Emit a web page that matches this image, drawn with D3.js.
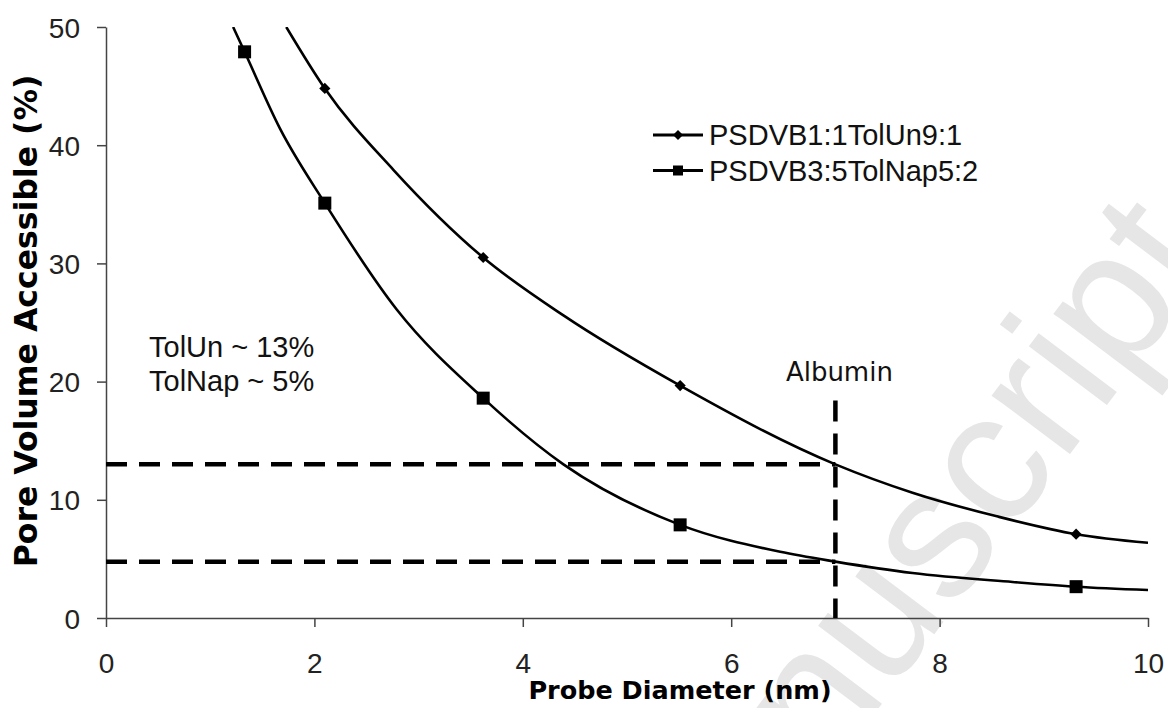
<!DOCTYPE html>
<html>
<head>
<meta charset="utf-8">
<script src="https://cdn.jsdelivr.net/npm/d3@7/dist/d3.min.js"></script>
<style>
  html, body { margin: 0; padding: 0; background: #fff; }
  svg { display: block; }
</style>
</head>
<body>
<div id="chart"></div>
<script>
// measured points (markers)
const unX = [2.1, 3.62, 5.51, 9.31];
const unY = [44.8, 30.5, 19.66, 7.09];
const napX = [1.33, 2.1, 3.62, 5.51, 9.31];
const napY = [47.9, 35.1, 18.6, 7.88, 2.65];

// smoothed curves
const unCurveX = [1.73, 2.1, 2.76, 3.62, 4.39, 5.51, 7.0, 7.74, 8.55, 9.31, 10];
const unCurveY = [50, 44.8, 37.9, 30.5, 25.6, 19.66, 13.0, 10.6, 8.6, 7.09, 6.36];
const napCurveX = [1.22, 1.33, 1.67, 2.1, 2.79, 3.62, 4.39, 5.51, 6.47, 7.0, 7.74, 8.7, 9.31, 10];
const napCurveY = [50, 47.9, 41.4, 35.1, 26.1, 18.6, 13.0, 7.88, 5.6, 4.77, 3.8, 3.05, 2.65, 2.37];

const seriesNames = ['PSDVB1:1TolUn9:1', 'PSDVB3:5TolNap5:2'];
const xTicks = [0, 2, 4, 6, 8, 10];
const yTicks = [0, 10, 20, 30, 40, 50];

// reference lines
const albuminX = 7;
const albuminTop = 18.4;
const levelUn = 13;
const levelNap = 4.75;

const width = 1168, height = 708;
const margin = {top: 27, right: 20, bottom: 90, left: 106};
const arial = 'Liberation Sans, Arial, sans-serif';

const svg = d3.select('#chart').append('svg')
    .attr('width', width)
    .attr('height', height);

const x = d3.scaleLinear().domain([0, 10]).range([margin.left, 1148]);
const y = d3.scaleLinear().domain([0, 50]).range([618, margin.top]);

// watermark
svg.append('text')
    .attr('transform', 'translate(1217,259) rotate(-53)')
    .attr('text-anchor', 'end')
    .attr('font-family', arial)
    .attr('font-size', 185)
    .attr('fill', '#e6e6e6')
    .text('Manuscript');

svg.append('clipPath').attr('id', 'plotClip')
    .append('rect')
    .attr('x', x(0))
    .attr('y', y(50))
    .attr('width', x(10) - x(0))
    .attr('height', y(0) - y(50));

// axes
const xAxis = svg.append('g')
    .attr('transform', 'translate(0,' + y(0) + ')')
    .call(d3.axisBottom(x).tickValues(xTicks).tickSize(9).tickSizeOuter(0));
xAxis.attr('font-family', arial);
xAxis.select('.domain').attr('stroke', '#444').attr('stroke-width', 1.5);
xAxis.selectAll('.tick line').attr('stroke', '#444').attr('stroke-width', 1.5);
xAxis.selectAll('.tick text')
    .attr('font-size', 28)
    .attr('fill', '#222')
    .attr('y', 55)
    .attr('dy', 0);

const yAxis = svg.append('g')
    .attr('transform', 'translate(' + x(0) + ',0)')
    .call(d3.axisLeft(y).tickValues(yTicks).tickSize(9).tickSizeOuter(0));
yAxis.attr('font-family', arial);
yAxis.select('.domain').attr('stroke', '#444').attr('stroke-width', 1.5);
yAxis.selectAll('.tick line').attr('stroke', '#444').attr('stroke-width', 1.5);
yAxis.selectAll('.tick text')
    .attr('font-size', 28)
    .attr('fill', '#222')
    .attr('x', -26)
    .attr('dy', '0.36em');

// axis titles
svg.append('text')
    .attr('x', 680)
    .attr('y', 699)
    .attr('text-anchor', 'middle')
    .attr('font-family', 'DejaVu Sans, sans-serif')
    .attr('font-weight', 'bold')
    .attr('font-size', 25.5)
    .attr('fill', '#000')
    .text('Probe Diameter (nm)');

svg.append('text')
    .attr('transform', 'translate(37,' + 321 + ') rotate(-90)')
    .attr('text-anchor', 'middle')
    .attr('font-family', 'DejaVu Sans, sans-serif')
    .attr('font-weight', 'bold')
    .attr('font-size', 31.5)
    .attr('fill', '#000')
    .text('Pore Volume Accessible (%)');

// dashed guide lines
const dash = '21,12';
svg.append('line')
    .attr('x1', x(0)).attr('x2', x(albuminX))
    .attr('y1', y(levelUn)).attr('y2', y(levelUn))
    .attr('stroke', '#000').attr('stroke-width', 4.5).attr('stroke-dasharray', dash);
svg.append('line')
    .attr('x1', x(0)).attr('x2', x(albuminX))
    .attr('y1', y(levelNap)).attr('y2', y(levelNap))
    .attr('stroke', '#000').attr('stroke-width', 4.5).attr('stroke-dasharray', dash);
svg.append('line')
    .attr('x1', x(albuminX)).attr('x2', x(albuminX))
    .attr('y1', y(albuminTop)).attr('y2', y(0))
    .attr('stroke', '#000').attr('stroke-width', 4.5).attr('stroke-dasharray', dash);

// curves
const line = d3.line()
    .x(d => x(d[0]))
    .y(d => y(d[1]))
    .curve(d3.curveMonotoneX);

const plot = svg.append('g').attr('clip-path', 'url(#plotClip)');
plot.append('path')
    .datum(d3.zip(unCurveX, unCurveY))
    .attr('fill', 'none').attr('stroke', '#000').attr('stroke-width', 2.6)
    .attr('d', line);
plot.append('path')
    .datum(d3.zip(napCurveX, napCurveY))
    .attr('fill', 'none').attr('stroke', '#000').attr('stroke-width', 2.6)
    .attr('d', line);

// markers
const diamond = d3.symbol().type(d3.symbolDiamond2).size(80);
svg.selectAll('.mk-un')
    .data(d3.zip(unX, unY))
    .enter().append('path')
    .attr('class', 'mk-un')
    .attr('transform', d => 'translate(' + x(d[0]) + ',' + y(d[1]) + ')')
    .attr('d', diamond)
    .attr('fill', '#000');
svg.selectAll('.mk-nap')
    .data(d3.zip(napX, napY))
    .enter().append('rect')
    .attr('class', 'mk-nap')
    .attr('x', d => x(d[0]) - 6.5)
    .attr('y', d => y(d[1]) - 6.5)
    .attr('width', 13)
    .attr('height', 13)
    .attr('fill', '#000');

// annotations
const note = svg.append('text')
    .attr('font-family', arial)
    .attr('font-size', 29)
    .attr('fill', '#111');
note.append('tspan').attr('x', 149).attr('y', 357).text('TolUn ~ 13%');
note.append('tspan').attr('x', 149).attr('y', 391).text('TolNap ~ 5%');

svg.append('text')
    .attr('x', x(albuminX) + 4)
    .attr('y', 381)
    .attr('text-anchor', 'middle')
    .attr('font-family', 'DejaVu Sans, sans-serif')
    .attr('font-size', 26)
    .attr('fill', '#111')
    .text('Albumin');

// legend
const legend = svg.append('g').attr('transform', 'translate(653,135)');
seriesNames.forEach(function(name, i) {
    let row = legend.append('g').attr('transform', 'translate(0,' + (i * 35.5) + ')');
    row.append('line')
        .attr('x1', 0).attr('x2', 50)
        .attr('stroke', '#000').attr('stroke-width', 3);
    if (i === 0) {
        row.append('path')
            .attr('transform', 'translate(25,0)')
            .attr('d', d3.symbol().type(d3.symbolDiamond2).size(64))
            .attr('fill', '#000');
    } else {
        row.append('rect')
            .attr('x', 20).attr('y', -5).attr('width', 10).attr('height', 10)
            .attr('fill', '#000');
    }
    row.append('text')
        .attr('x', 56)
        .attr('dy', '0.36em')
        .attr('font-family', arial)
        .attr('font-size', 29)
        .attr('fill', '#111')
        .text(name);
});
</script>
</body>
</html>
